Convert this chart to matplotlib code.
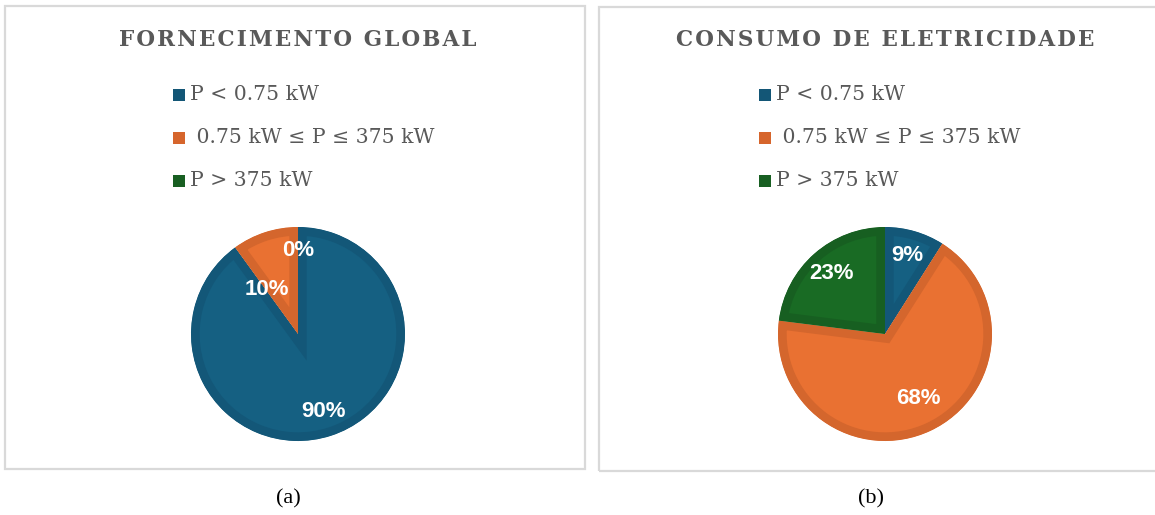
import matplotlib
matplotlib.use("Agg")
import matplotlib.pyplot as plt
from matplotlib.patches import Rectangle
import numpy as np

W, H = 1155, 515

# data
legend_labels = ["P < 0.75 kW", " 0.75 kW \u2264 P \u2264 375 kW", "P > 375 kW"]
titles = ["FORNECIMENTO GLOBAL", "CONSUMO DE ELETRICIDADE"]
captions = ["(a)", "(b)"]
fornecimento = [90, 10, 0]
consumo = [9, 68, 23]
pct_fornecimento = ["90%", "10%", "0%"]
pct_consumo = ["9%", "68%", "23%"]

face = ["#156082", "#E97132", "#196B24"]
edge = ["#135778", "#D4662D", "#175F21"]
legend_col = ["#135676", "#D6652C", "#185F22"]
txt_gray = "#595959"


def px_axes(x0, y0, x1, y1):
    return fig.add_axes([x0 / W, 1 - y1 / H, (x1 - x0) / W, (y1 - y0) / H])


def spaced(s):
    # the titles have a small letter spacing
    return "\u200a".join(s)


fig = plt.figure(figsize=(W / 100, H / 100), dpi=100)
fig.patch.set_facecolor("white")

# panel borders
for (x0, y0, x1, y1) in [(5, 6, 585, 469), (599, 7, 1160, 471)]:
    fig.patches.append(Rectangle((x0 / W, 1 - y1 / H), (x1 - x0) / W, (y1 - y0) / H,
                                 transform=fig.transFigure, fill=False,
                                 edgecolor="#D9D9D9", linewidth=1.6))

# label placement: (distance from centre, angle tweak in degrees)
panels = [
    dict(cx=298, cy=334, r=107, vals=fornecimento, pct=pct_fornecimento,
         lab=[(0.76, 0), (0.51, 17), (0.78, 0)], leg_x=173, title_x=298, cap_x=288),
    dict(cx=885, cy=334, r=107, vals=consumo, pct=pct_consumo,
         lab=[(0.76, 0), (0.68, 2), (0.75, 0)], leg_x=759, title_x=885, cap_x=871),
]

for i, p in enumerate(panels):
    lim = 1.03
    rr = p["r"] * lim
    ax = px_axes(p["cx"] - rr, p["cy"] - rr, p["cx"] + rr, p["cy"] + rr)
    wedges, _ = ax.pie(p["vals"], colors=face, startangle=90, counterclock=False,
                       radius=1, wedgeprops=dict(linewidth=12.5))
    for k, w in enumerate(wedges):
        w.set_edgecolor(edge[k])
        if p["vals"][k] == 0:
            w.set_linewidth(0)
        w.set_clip_on(True)
        w.set_clip_path(w)
    ax.set_xlim(-lim, lim)
    ax.set_ylim(-lim, lim)
    ax.set_aspect("equal")
    ax.axis("off")
    for k, w in enumerate(wedges):
        d, da = p["lab"][k]
        ang = np.deg2rad((w.theta1 + w.theta2) / 2 + da)
        ax.text(d * np.cos(ang), d * np.sin(ang), p["pct"][k], ha="center", va="center",
                color="white", fontsize=16, fontweight="bold", family="Liberation Sans")

    fig.text(p["title_x"] / W, 1 - 40 / H, spaced(titles[i]), ha="center", va="center",
             color=txt_gray, fontsize=15.5, fontweight="bold", family="DejaVu Serif")

    for k, lab in enumerate(legend_labels):
        yc = 95 + k * 43
        fig.patches.append(Rectangle((p["leg_x"] / W, 1 - (yc + 6) / H), 12 / W, 12 / H,
                                     transform=fig.transFigure, facecolor=legend_col[k],
                                     edgecolor="none"))
        fig.text((p["leg_x"] + 17) / W, 1 - yc / H, lab, ha="left", va="center",
                 color=txt_gray, fontsize=14.7, family="DejaVu Serif")

    fig.text(p["cap_x"] / W, 1 - 499 / H, captions[i], ha="center", va="center",
             color="black", fontsize=16, family="Liberation Serif")

fig.savefig("out.png", dpi=100, facecolor="white")
